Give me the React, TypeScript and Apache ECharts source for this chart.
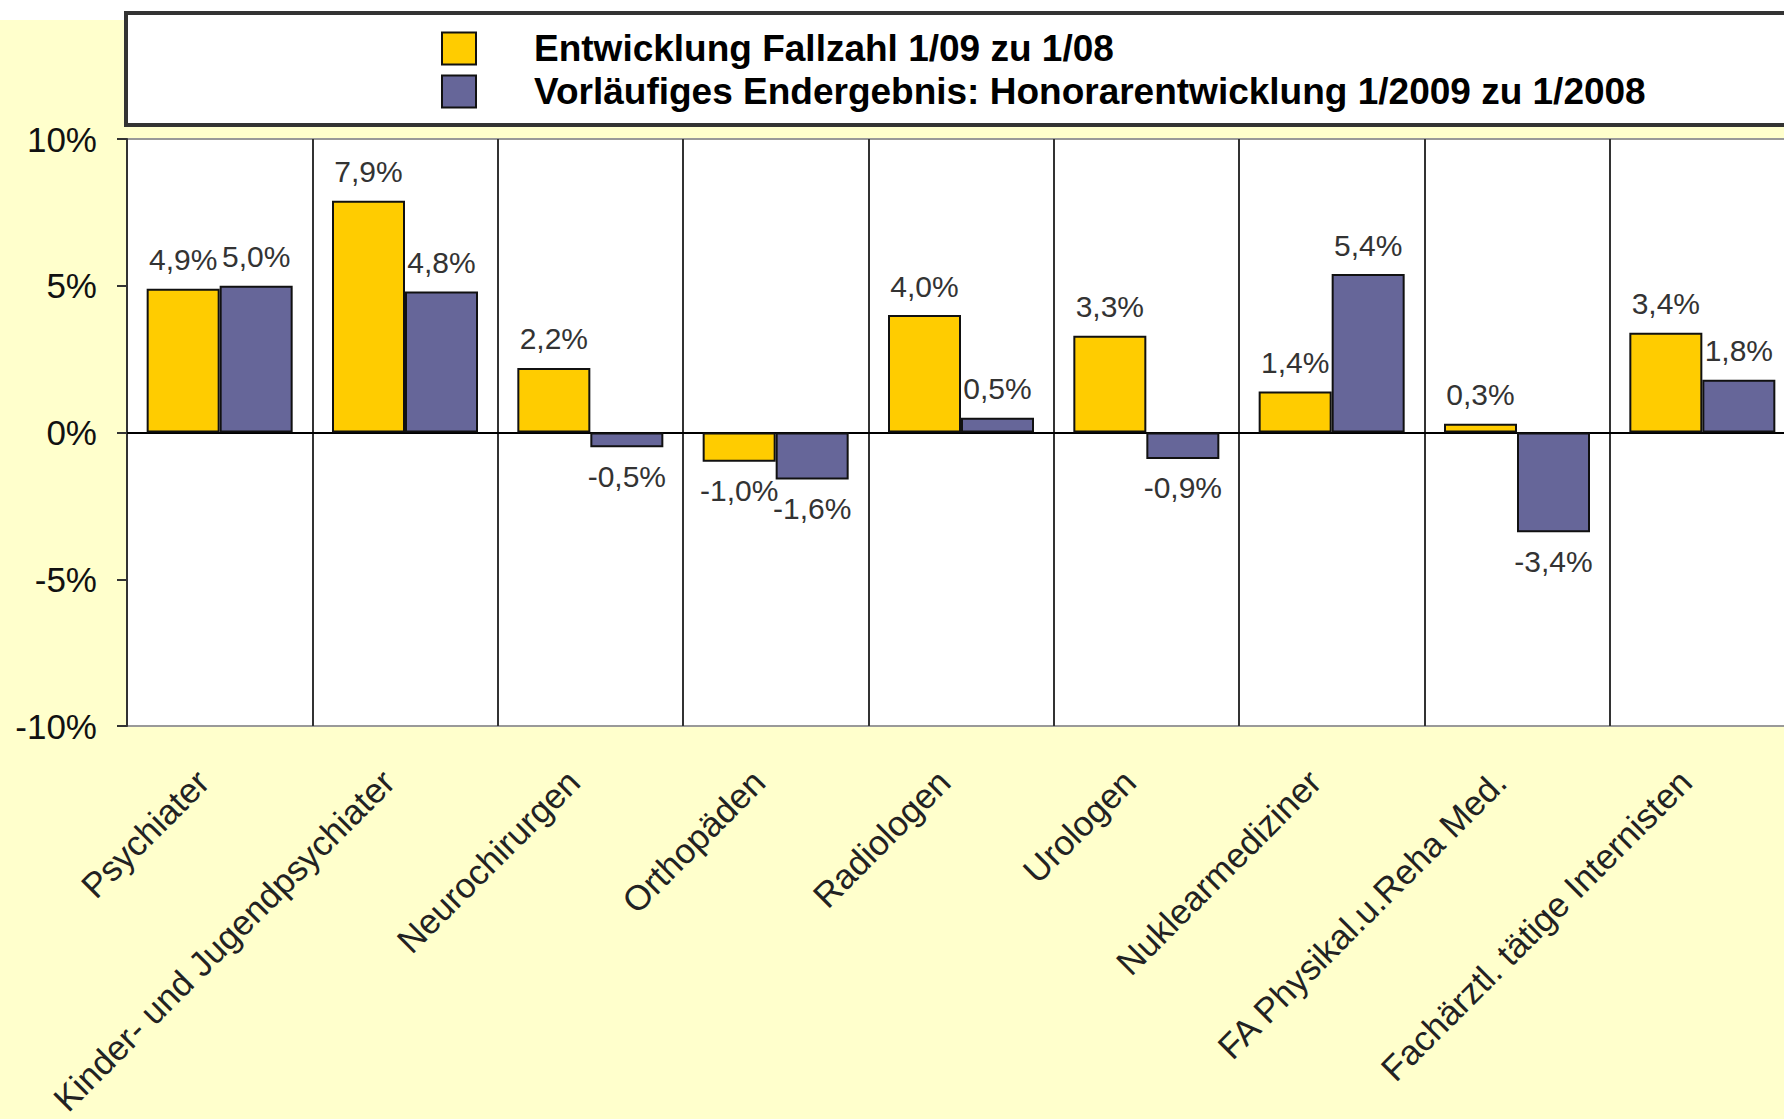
import React, { useEffect, useRef } from "react";
import * as echarts from "echarts";

const categories = [
  "Psychiater",
  "Kinder- und Jugendpsychiater",
  "Neurochirurgen",
  "Orthopäden",
  "Radiologen",
  "Urologen",
  "Nuklearmediziner",
  "FA Physikal.u.Reha Med.",
  "Fachärztl. tätige Internisten",
];
const seriesNames = [
  "Entwicklung Fallzahl 1/09 zu 1/08",
  "Vorläufiges Endergebnis: Honorarentwicklung 1/2009 zu 1/2008",
];
const fallzahl = [4.9, 7.9, 2.2, -1.0, 4.0, 3.3, 1.4, 0.3, 3.4];
const honorar = [5.0, 4.8, -0.5, -1.6, 0.5, -0.9, 5.4, -3.4, 1.8];
const yMin = -10;
const yMax = 10;
const yInterval = 5;

const FONT = "'Liberation Sans', Arial, sans-serif";

const fmt = (v: number) => v.toFixed(1).replace(".", ",") + "%";

const toData = (arr: number[]) =>
  arr.map((v) => ({
    value: v,
    label: { position: v < 0 ? "bottom" : "top" },
  }));

export default function App() {
  const ref = useRef<HTMLDivElement>(null);
  useEffect(() => {
    if (!ref.current) return;
    const chart = echarts.init(ref.current, undefined, { renderer: "svg" });
    const labelCfg = {
      show: true,
      fontFamily: FONT,
      fontSize: 30,
      color: "#333",
      distance: 14,
      formatter: (p: any) => fmt(p.value),
    };
    chart.setOption({
      animation: false,
      backgroundColor: "#FFFFCC",
      graphic: [
        {
          type: "rect",
          shape: { x: 0, y: 0, width: 1800, height: 20 },
          style: { fill: "#ffffff" },
          z: -10,
        },
        {
          type: "rect",
          shape: { x: 126, y: 13, width: 1720, height: 112 },
          style: { fill: "#ffffff", stroke: "#333333", lineWidth: 4 },
          z: 0,
        },
      ],
      legend: {
        orient: "vertical",
        left: 441,
        top: 30,
        padding: 0,
        itemGap: 6,
        itemWidth: 34,
        itemHeight: 32,
        icon: "rect",
        selectedMode: false,
        textStyle: {
          fontFamily: FONT,
          fontWeight: "bold",
          fontSize: 37,
          lineHeight: 37,
          color: "#000",
          padding: [0, 0, 0, 53],
        },
        data: seriesNames,
        z: 10,
      },
      grid: {
        left: 127,
        top: 139,
        right: 0,
        bottom: 393,
        outerBoundsMode: "none",
        containLabel: false,
        show: true,
        backgroundColor: "#ffffff",
        borderColor: "#999999",
        borderWidth: 2,
      },
      xAxis: {
        type: "category",
        data: categories,
        axisLine: { onZero: true, lineStyle: { color: "#000", width: 2 } },
        axisTick: { show: false },
        splitLine: {
          show: true,
          interval: 0,
          lineStyle: { color: "#333", width: 2 },
        },
        axisLabel: {
          interval: 0,
          rotate: 45,
          margin: 33,
          padding: [0, 24, 0, 0],
          fontFamily: FONT,
          fontSize: 35,
          color: "#222",
        },
      },
      yAxis: {
        type: "value",
        min: yMin,
        max: yMax,
        interval: yInterval,
        axisLine: { show: true, lineStyle: { color: "#333", width: 2 } },
        axisTick: { show: true, length: 10, lineStyle: { color: "#333", width: 2 } },
        splitLine: { show: false },
        axisLabel: {
          margin: 30,
          fontFamily: FONT,
          fontSize: 35,
          color: "#111",
          formatter: (v: number) => `${v}%`,
        },
      },
      series: [
        {
          name: seriesNames[0],
          type: "bar",
          data: toData(fallzahl),
          barWidth: 73,
          barGap: "0%",
          itemStyle: { color: "#FFCC00", borderColor: "#111", borderWidth: 2 },
          label: labelCfg,
        },
        {
          name: seriesNames[1],
          type: "bar",
          data: toData(honorar),
          barWidth: 73,
          barGap: "0%",
          itemStyle: { color: "#666699", borderColor: "#111", borderWidth: 2 },
          label: labelCfg,
        },
      ],
    });
    return () => chart.dispose();
  }, []);
  return (
    <div
      style={{
        position: "fixed",
        left: 0,
        top: 0,
        width: 1784,
        height: 1119,
        overflow: "hidden",
      }}
    >
      <div ref={ref} style={{ width: 1795, height: 1119 }} />
    </div>
  );
}
